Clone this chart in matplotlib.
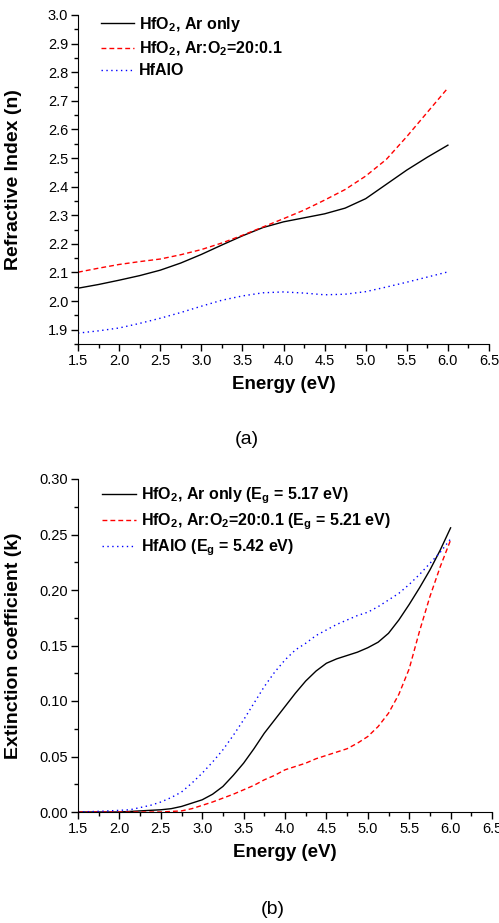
import numpy as np
import matplotlib
matplotlib.use("Agg")
import matplotlib.pyplot as plt
from matplotlib.ticker import MultipleLocator, FormatStrFormatter

plt.rcParams['font.family'] = ['Liberation Sans', 'DejaVu Sans']
plt.rcParams['mathtext.fontset'] = 'custom'
plt.rcParams['mathtext.rm'] = 'Liberation Sans:bold'
plt.rcParams['mathtext.it'] = 'Liberation Sans:bold'
plt.rcParams['mathtext.bf'] = 'Liberation Sans:bold'
plt.rcParams['mathtext.default'] = 'rm'

# (a) refractive index n, photon energy in eV
energy_a = [1.5, 1.75, 2.0, 2.25, 2.5, 2.75, 3.0, 3.25, 3.5, 3.75, 4.0,
            4.25, 4.5, 4.75, 5.0, 5.25, 5.5, 5.75, 6.0]
n_ar = [2.045, 2.058, 2.073, 2.089, 2.108, 2.133, 2.163, 2.196, 2.228, 2.257,
        2.277, 2.291, 2.305, 2.325, 2.358, 2.408, 2.458, 2.503, 2.545]
n_aro2 = [2.101, 2.115, 2.128, 2.138, 2.147, 2.162, 2.180, 2.203, 2.230, 2.259,
          2.288, 2.318, 2.353, 2.390, 2.437, 2.495, 2.575, 2.660, 2.745]
n_hfalo = [1.888, 1.896, 1.906, 1.922, 1.940, 1.960, 1.982, 2.003, 2.018, 2.029,
           2.032, 2.028, 2.022, 2.024, 2.033, 2.049, 2.066, 2.084, 2.102]

# (b) extinction coefficient k
energy_b = [1.5, 1.625, 1.75, 1.875, 2.0, 2.125, 2.25, 2.375, 2.5, 2.625,
            2.75, 2.875, 3.0, 3.125, 3.25, 3.375, 3.5, 3.625, 3.75, 3.875,
            4.0, 4.125, 4.25, 4.375, 4.5, 4.625, 4.75, 4.875, 5.0, 5.125,
            5.25, 5.375, 5.5, 5.625, 5.75, 5.875, 6.0]
k_ar = [0.0, 0.0, 0.0, 0.0, 0.0, 0.0005, 0.001, 0.0015, 0.002, 0.003,
        0.005, 0.008, 0.011, 0.016, 0.023, 0.033, 0.044, 0.057, 0.071, 0.083,
        0.095, 0.107, 0.118, 0.127, 0.134, 0.138, 0.141, 0.144, 0.148, 0.153,
        0.161, 0.173, 0.187, 0.202, 0.218, 0.236, 0.256]
k_aro2 = [0.0, 0.0, 0.0, 0.0, 0.0, 0.0, 0.0, 0.0, 0.0, 0.0005,
          0.001, 0.003, 0.006, 0.009, 0.0125, 0.016, 0.020, 0.024, 0.029, 0.033,
          0.038, 0.041, 0.044, 0.048, 0.051, 0.054, 0.057, 0.062, 0.068, 0.077,
          0.089, 0.106, 0.129, 0.163, 0.194, 0.221, 0.245]
k_hfalo = [0.0, 0.0003, 0.0006, 0.001, 0.0015, 0.002, 0.004, 0.006, 0.009, 0.013,
           0.018, 0.026, 0.035, 0.045, 0.056, 0.069, 0.083, 0.098, 0.113, 0.126,
           0.137, 0.146, 0.152, 0.159, 0.164, 0.169, 0.173, 0.177, 0.180, 0.185,
           0.191, 0.197, 0.205, 0.214, 0.224, 0.234, 0.246]

labels_a = [r'HfO$_2$, Ar only', r'HfO$_2$, Ar:O$_2$=20:0.1', 'HfAlO']
labels_b = [r'HfO$_2$, Ar only (E$_g$ = 5.17 eV)',
            r'HfO$_2$, Ar:O$_2$=20:0.1 (E$_g$ = 5.21 eV)',
            r'HfAlO (E$_g$ = 5.42 eV)']

fig = plt.figure(figsize=(4.99, 9.23), dpi=100)
ax1 = fig.add_axes([78/499, 1-344/923, 411/499, 329/923])
ax2 = fig.add_axes([78/499, 1-812/923, 414/499, 333/923])


def style(ax):
    ax.spines['top'].set_visible(False)
    ax.spines['right'].set_visible(False)
    ax.tick_params(which='major', direction='out', length=5, width=1, labelsize=10.5, pad=2)
    ax.tick_params(which='minor', direction='out', length=3, width=1)
    ax.set_xlim(1.5, 6.5)
    ax.xaxis.set_major_locator(MultipleLocator(0.5))
    ax.xaxis.set_minor_locator(MultipleLocator(0.25))
    ax.xaxis.set_major_formatter(FormatStrFormatter('%.1f'))
    ax.set_xlabel('Energy (eV)', fontsize=13.5, fontweight='bold', labelpad=6)


def curves(ax, e, a, b, c, labels):
    ax.plot(e, a, color='black', lw=1.0, label=labels[0])
    ax.plot(e, b, color='#ff0000', lw=1.0, dashes=(3.5, 2.2), label=labels[1])
    ax.plot(e, c, color='#0000ff', lw=1.0, dashes=(1, 2.5), label=labels[2])


curves(ax1, energy_a, n_ar, n_aro2, n_hfalo, labels_a)
style(ax1)
ax1.set_ylim(1.85, 3.0)
ax1.yaxis.set_major_locator(MultipleLocator(0.1))
ax1.yaxis.set_minor_locator(MultipleLocator(0.05))
ax1.yaxis.set_major_formatter(FormatStrFormatter('%.1f'))
ax1.set_ylabel('Refractive Index (n)', fontsize=14, fontweight='bold')
ax1.yaxis.set_label_coords(-0.137, 0.5)
ax1.legend(loc='upper left', bbox_to_anchor=(0.04, 1.02), frameon=False,
           prop={'weight': 'bold', 'size': 11.5}, handlelength=2.1,
           handletextpad=0.3, labelspacing=0.35, borderaxespad=0)

curves(ax2, energy_b, k_ar, k_aro2, k_hfalo, labels_b)
style(ax2)
ax2.set_ylim(0, 0.30)
ax2.yaxis.set_major_locator(MultipleLocator(0.05))
ax2.yaxis.set_minor_locator(MultipleLocator(0.025))
ax2.yaxis.set_major_formatter(FormatStrFormatter('%.2f'))
ax2.set_ylabel('Extinction coefficient (k)', fontsize=14, fontweight='bold')
ax2.yaxis.set_label_coords(-0.135, 0.5)
ax2.legend(loc='upper left', bbox_to_anchor=(0.043, 1.0), frameon=False,
           prop={'weight': 'bold', 'size': 11.5}, handlelength=2.1,
           handletextpad=0.3, labelspacing=0.35, borderaxespad=0)

fig.text(247/499, 1-440/923, '(a)', ha='center', va='center', fontsize=14)
fig.text(273/499, 1-910/923, '(b)', ha='center', va='center', fontsize=14)

fig.savefig('out.png', dpi=100)
